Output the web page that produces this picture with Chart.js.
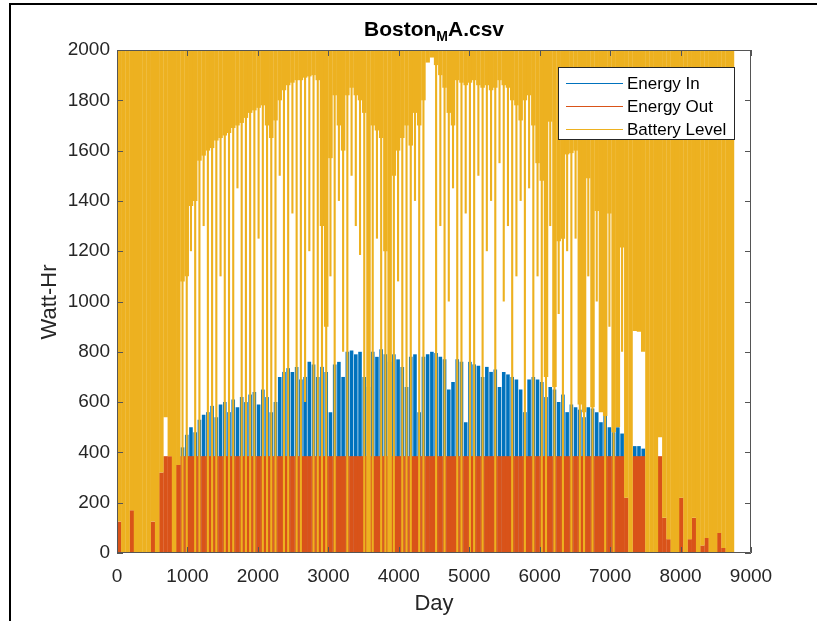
<!DOCTYPE html>
<html>
<head>
<meta charset="utf-8">
<title>Boston_MA.csv</title>
<script src="https://cdn.jsdelivr.net/npm/chart.js@4.4.0/dist/chart.umd.min.js"></script>
<style>
  body { margin: 0; background: #fff; }
  #wrap { position: relative; width: 817px; height: 621px; overflow: hidden; background: #fff;
          font-family: "Liberation Sans", Arial, Helvetica, sans-serif; color: #262626; }
  #chart { position: absolute; left: 0; top: 0; }
  #frame { position: absolute; left: 9px; top: 3px; width: 900px; height: 700px;
           border-left: 2px solid #000; border-top: 2px solid #000; pointer-events: none; }
  #title { position: absolute; left: 0; width: 868px; top: 17px; text-align: center;
           font-weight: bold; font-size: 21px; color: #000; }
  #title sub { font-size: 14px; vertical-align: -5px; line-height: 0; }
  #ylab { position: absolute; left: 49px; top: 302px; transform: translate(-50%, -50%) rotate(-90deg);
          font-size: 22px; white-space: nowrap; }
  #xlab { position: absolute; left: 434px; top: 603px; transform: translate(-50%, -50%); font-size: 22px; }
  #legend { position: absolute; left: 558px; top: 67px; width: 175px; height: 71px;
            border: 1px solid #262626; background: #fff; }
  .item { position: absolute; left: 0; height: 23px; line-height: 23px; font-size: 17px; white-space: nowrap; }
  .item .swatch { position: absolute; left: 7px; top: 11px; width: 57px; height: 0; border-top: 1px solid; }
  .item .txt { position: absolute; left: 68px; top: 0; color: #000; }
</style>
</head>
<body>
<div id="wrap">
  <canvas id="chart" width="817" height="621"></canvas>
  <div id="frame"></div>
  <div id="title">Boston<sub>M</sub>A.csv</div>
  <div id="ylab">Watt-Hr</div>
  <div id="xlab">Day</div>
  <div id="legend"></div>
</div>
<script>
// hourly simulation summarised in 60-hour bins (hours 0..8760)
var BIN = 60;
var binCenters = [];
for (var h = 0; h < 8760; h += BIN) binCenters.push(h + BIN / 2);

var xTickLabels = ['0', '1000', '2000', '3000', '4000', '5000', '6000', '7000', '8000', '9000'];
var yTickLabels = ['0', '200', '400', '600', '800', '1000', '1200', '1400', '1600', '1800', '2000'];

// peak solar energy in per bin (Watt-Hr)
var energyIn = [
  0, 0, 0, 0, 0, 0, 0, 0, 0, 0,
  0, 0, 0, 0, 0, 420, 470, 500, 480, 530,
  550, 560, 585, 540, 590, 600, 560, 610, 580, 620,
  600, 630, 640, 590, 650, 620, 560, 600, 700, 720,
  735, 720, 740, 690, 700, 760, 750, 700, 740, 720,
  560, 750, 760, 700, 800, 805, 790, 800, 700, 660,
  800, 780, 810, 790, 760, 790, 770, 740, 660, 780,
  790, 560, 780, 790, 800, 795, 780, 770, 650, 680,
  770, 760, 520, 760, 750, 745, 700, 740, 720, 730,
  660, 720, 710, 700, 690, 650, 560, 690, 700, 690,
  680, 620, 660, 650, 600, 630, 560, 590, 580, 570,
  540, 580, 575, 560, 520, 545, 500, 480, 500, 475,
  0, 0, 425, 425, 415, 0, 0, 0, 0, 0,
  0, 0, 0, 0, 0, 0, 0, 0, 0, 0,
  0, 0, 0, 0, 0, 0
];

// energy delivered to the load per bin
var energyOut = [
  125, 0, 0, 170, 0, 0, 0, 0, 125, 0,
  320, 385, 385, 0, 350, 385, 385, 385, 385, 385,
  385, 385, 385, 385, 385, 385, 385, 385, 385, 385,
  385, 385, 385, 385, 385, 385, 385, 385, 385, 385,
  385, 385, 385, 385, 385, 385, 385, 385, 385, 385,
  385, 385, 385, 385, 385, 385, 385, 385, 385, 385,
  385, 385, 385, 385, 385, 385, 385, 385, 385, 385,
  385, 385, 385, 385, 385, 385, 385, 385, 385, 385,
  385, 385, 385, 385, 385, 385, 385, 385, 385, 385,
  385, 385, 385, 385, 385, 385, 385, 385, 385, 385,
  385, 385, 385, 385, 385, 385, 385, 385, 385, 385,
  385, 385, 385, 385, 385, 385, 385, 385, 385, 385,
  220, 0, 385, 385, 385, 0, 0, 0, 385, 140,
  55, 0, 0, 220, 0, 55, 140, 0, 30, 60,
  0, 0, 80, 20, 0, 0
];

// battery: full charge and the usual low point in each bin
var batteryMax = 2000;
var batteryLow = [
  125, 0, 0, 170, 0, 0, 0, 0, 125, 0,
  320, 540, 385, 0, 350, 1080, 1100, 1380, 1400, 1560,
  1580, 1600, 1610, 1640, 1650, 1660, 1670, 1690, 1700, 1710,
  1730, 1750, 1760, 1770, 1780, 1700, 1650, 1720, 1800, 1840,
  1860, 1870, 1880, 1880, 1890, 1895, 1900, 1880, 1300, 900,
  1570, 1820, 1700, 1600, 1820, 1850, 1820, 1800, 1750, 0,
  1700, 1680, 1650, 1200, 0, 1500, 1600, 1650, 1700, 1620,
  1750, 1700, 1800, 1950, 1970, 1940, 1900, 1850, 1750, 1700,
  1880, 1870, 1860, 1870, 1880, 1860, 1850, 1860, 1840, 1850,
  1880, 1860, 1850, 1800, 1780, 1720, 1800, 1820, 1700, 1550,
  1480, 700, 1715, 660, 1240, 1250, 1585, 1590, 1600, 590,
  560, 1490, 580, 1360, 560, 545, 1350, 480, 500, 1215,
  220, 0, 883, 880, 800, 0, 0, 0, 460, 140,
  55, 0, 0, 220, 0, 55, 140, 0, 30, 60,
  0, 0, 80, 20, 0, 0
];

// lowest dip of the battery within a bin (thin drops), null where none
var batteryDip = [
  null, null, null, null, null, null, null, null, null, null,
  null, null, null, null, null, 0, 0, 1200, 0, 0,
  1300, 0, 0, 0, 1100, 0, 0, 0, 1450, 0,
  0, 0, 0, 1250, 0, 0, 0, 0, 1500, 0,
  0, 1350, 0, 0, 600, 1200, 0, 0, 0, 0,
  1100, 0, 1400, 800, 0, 1500, 1300, 1185, 0, null,
  0, 1250, 0, 0, null, 0, 1080, 0, 0, 0,
  1400, 0, 0, null, null, 0, 1300, 0, 1000, 1450,
  0, 0, 1350, 0, 0, 1500, 0, 1200, 1400, 0,
  1550, 1000, 1300, 0, 1100, 1400, 0, 1450, 0, 1100,
  0, 0, 1300, 0, 950, 0, 1200, 0, 1250, 0,
  0, 1100, 0, 1000, null, 0, 900, 0, null, 800,
  null, null, null, null, null, null, null, null, null, null,
  null, null, null, null, null, null, null, null, null, null,
  null, null, null, null, null, null
];

var BLUE = '#0072BD';
var ORANGE = '#D95319';
var YELLOW = '#EDB120';

function points(values, low) {
  return binCenters.map(function(x, i) {
    var v = values[i];
    if (v === null) return { x: x, y: null };
    return { x: x, y: low ? [v, batteryMax] : v };
  });
}

// inward tick marks and the axes box, MATLAB style
var axesBox = {
  id: 'axesBox',
  afterDatasetsDraw: function(chart) {
    var ctx = chart.ctx, a = chart.chartArea, sx = chart.scales.x, sy = chart.scales.y;
    var tick = 6;
    ctx.save();
    ctx.strokeStyle = '#555';
    ctx.lineWidth = 1;
    ctx.beginPath();
    sx.ticks.forEach(function(t) {
      var px = Math.round(sx.getPixelForValue(t.value)) + 0.5;
      ctx.moveTo(px, a.bottom); ctx.lineTo(px, a.bottom - tick);
      ctx.moveTo(px, a.top); ctx.lineTo(px, a.top + tick);
    });
    sy.ticks.forEach(function(t) {
      var py = Math.round(sy.getPixelForValue(t.value)) + 0.5;
      ctx.moveTo(a.left, py); ctx.lineTo(a.left + tick, py);
      ctx.moveTo(a.right, py); ctx.lineTo(a.right - tick, py);
    });
    ctx.rect(a.left + 0.5, a.top + 0.5, a.right - a.left - 1, a.bottom - a.top - 1);
    ctx.stroke();
    ctx.restore();
  }
};

Chart.defaults.font.family = '"Liberation Sans", Arial, Helvetica, sans-serif';
Chart.defaults.color = '#262626';

var barBase = { grouped: false, borderWidth: 0, categoryPercentage: 1, barPercentage: 1.06 };

var chart = new Chart(document.getElementById('chart'), {
  type: 'bar',
  data: {
    datasets: [
      Object.assign({ label: 'Battery Level', data: points(batteryLow, true), backgroundColor: YELLOW, order: 1 }, barBase),
      Object.assign({ label: 'Battery dips', data: points(batteryDip, true), backgroundColor: YELLOW, order: 2 }, barBase, { barPercentage: 0.5 }),
      Object.assign({ label: 'Energy Out', data: points(energyOut), backgroundColor: ORANGE, order: 3 }, barBase),
      Object.assign({ label: 'Energy In', data: points(energyIn), backgroundColor: BLUE, order: 4 }, barBase, { barPercentage: 0.85 })
    ]
  },
  options: {
    responsive: false,
    animation: false,
    devicePixelRatio: 1,
    layout: { padding: { left: 0, top: 50, right: 66, bottom: 0 } },
    plugins: { legend: { display: false }, tooltip: { enabled: false }, title: { display: false } },
    scales: {
      x: {
        type: 'linear', min: 0, max: 9000, offset: false,
        afterFit: function(s) { s.height = 68; },
        grid: { display: false, drawTicks: false, offset: false },
        border: { display: false },
        ticks: { stepSize: 1000, padding: 12, maxRotation: 0, font: { size: 19 },
                 callback: function(v, i) { return xTickLabels[i]; } }
      },
      y: {
        min: 0, max: 2000,
        afterFit: function(s) { s.width = 117; },
        grid: { display: false, drawTicks: false },
        border: { display: false },
        ticks: { stepSize: 200, padding: 7, font: { size: 19 },
                 callback: function(v, i) { return yTickLabels[i]; } }
      }
    }
  },
  plugins: [axesBox]
});

// legend built from the datasets, in plot order
var legend = document.getElementById('legend');
['Energy In', 'Energy Out', 'Battery Level'].forEach(function(name, i) {
  var ds = chart.data.datasets.filter(function(d) { return d.label === name; })[0];
  var row = document.createElement('div');
  row.className = 'item';
  row.style.top = (3.5 + 23 * i) + 'px';
  row.innerHTML = '<span class="swatch" style="border-color:' + ds.backgroundColor + '"></span>' +
                  '<span class="txt">' + ds.label + '</span>';
  legend.appendChild(row);
});
</script>
</body>
</html>
